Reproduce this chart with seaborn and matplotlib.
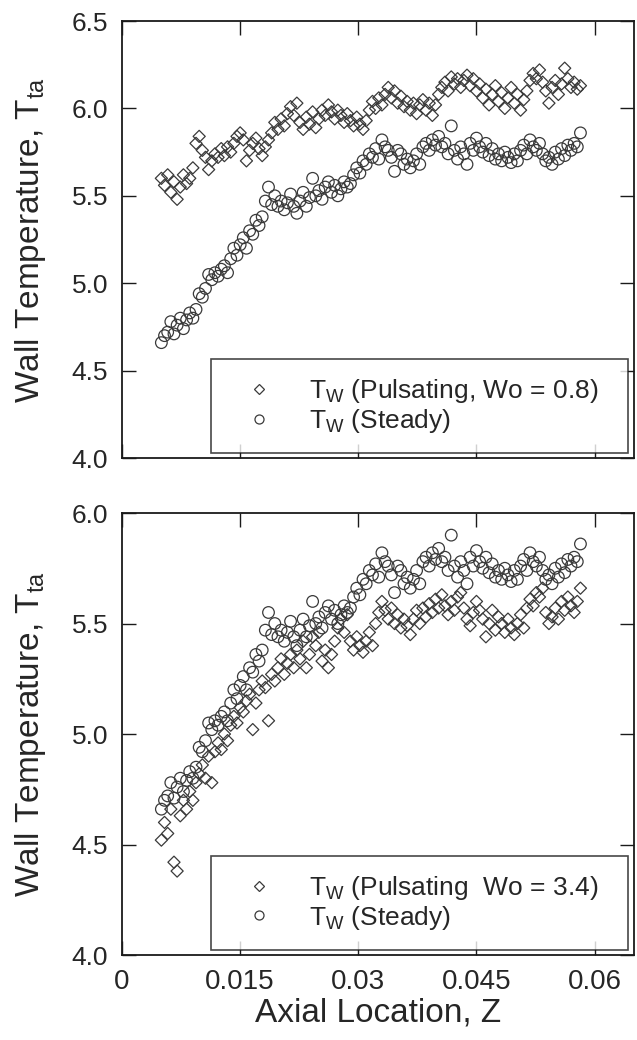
import numpy as np
import pandas as pd
import matplotlib
matplotlib.use("Agg")
import matplotlib.pyplot as plt
import seaborn as sns
from matplotlib.lines import Line2D

sns.set_style("ticks")
plt.rcParams['font.family'] = ['Liberation Sans', 'DejaVu Sans']
plt.rcParams['mathtext.fontset'] = 'custom'
plt.rcParams['mathtext.rm'] = 'Liberation Sans'
plt.rcParams['mathtext.it'] = 'Liberation Sans:italic'

# axial locations (same grid for every series)
z = [0.0050, 0.0054, 0.0058, 0.0062, 0.0066, 0.0070, 0.0074, 0.0078, 0.0082, 0.0086,
     0.0090, 0.0094, 0.0098, 0.0102, 0.0106, 0.0110, 0.0114, 0.0118, 0.0122, 0.0126,
     0.0130, 0.0134, 0.0138, 0.0142, 0.0146, 0.0150, 0.0154, 0.0158, 0.0162, 0.0166,
     0.0170, 0.0174, 0.0178, 0.0182, 0.0186, 0.0190, 0.0194, 0.0198, 0.0202, 0.0206,
     0.0210, 0.0214, 0.0218, 0.0222, 0.0226, 0.0230, 0.0234, 0.0238, 0.0242, 0.0246,
     0.0250, 0.0254, 0.0258, 0.0262, 0.0266, 0.0270, 0.0274, 0.0278, 0.0282, 0.0286,
     0.0290, 0.0294, 0.0298, 0.0302, 0.0306, 0.0310, 0.0314, 0.0318, 0.0322, 0.0326,
     0.0330, 0.0334, 0.0338, 0.0342, 0.0346, 0.0350, 0.0354, 0.0358, 0.0362, 0.0366,
     0.0370, 0.0374, 0.0378, 0.0382, 0.0386, 0.0390, 0.0394, 0.0398, 0.0402, 0.0406,
     0.0410, 0.0414, 0.0418, 0.0422, 0.0426, 0.0430, 0.0434, 0.0438, 0.0442, 0.0446,
     0.0450, 0.0454, 0.0458, 0.0462, 0.0466, 0.0470, 0.0474, 0.0478, 0.0482, 0.0486,
     0.0490, 0.0494, 0.0498, 0.0502, 0.0506, 0.0510, 0.0514, 0.0518, 0.0522, 0.0526,
     0.0530, 0.0534, 0.0538, 0.0542, 0.0546, 0.0550, 0.0554, 0.0558, 0.0562, 0.0566,
     0.0570, 0.0574, 0.0578, 0.0582]

# steady wall temperature (shown in both panels)
t_steady = [4.66, 4.70, 4.72, 4.78, 4.71, 4.76, 4.80, 4.74, 4.79, 4.83,
            4.80, 4.85, 4.94, 4.92, 4.97, 5.05, 5.02, 5.06, 5.04, 5.08,
            5.10, 5.06, 5.14, 5.20, 5.16, 5.22, 5.26, 5.20, 5.30, 5.28,
            5.36, 5.33, 5.38, 5.47, 5.55, 5.45, 5.50, 5.44, 5.47, 5.42,
            5.46, 5.51, 5.44, 5.40, 5.47, 5.52, 5.44, 5.49, 5.60, 5.50,
            5.53, 5.48, 5.55, 5.58, 5.52, 5.56, 5.50, 5.54, 5.58, 5.55,
            5.57, 5.62, 5.66, 5.63, 5.70, 5.68, 5.74, 5.72, 5.77, 5.71,
            5.82, 5.78, 5.76, 5.72, 5.64, 5.76, 5.74, 5.68, 5.71, 5.66,
            5.70, 5.74, 5.68, 5.78, 5.80, 5.76, 5.82, 5.79, 5.84, 5.78,
            5.80, 5.74, 5.90, 5.76, 5.71, 5.78, 5.74, 5.68, 5.80, 5.76,
            5.83, 5.78, 5.75, 5.80, 5.73, 5.77, 5.71, 5.74, 5.70, 5.75,
            5.72, 5.69, 5.74, 5.70, 5.76, 5.79, 5.74, 5.82, 5.78, 5.76,
            5.80, 5.74, 5.70, 5.72, 5.68, 5.75, 5.71, 5.77, 5.73, 5.79,
            5.76, 5.80, 5.78, 5.86]

# pulsating, Wo = 0.8
t_puls_08 = [5.60, 5.56, 5.62, 5.52, 5.58, 5.48, 5.55, 5.62, 5.57, 5.60,
             5.66, 5.80, 5.84, 5.76, 5.72, 5.65, 5.70, 5.74, 5.72, 5.77,
             5.73, 5.78, 5.75, 5.80, 5.84, 5.86, 5.82, 5.70, 5.76, 5.80,
             5.83, 5.77, 5.73, 5.78, 5.82, 5.86, 5.92, 5.88, 5.94, 5.90,
             5.97, 6.01, 5.96, 6.03, 5.92, 5.88, 5.95, 5.91, 5.98, 5.89,
             5.94, 5.99, 5.96, 6.02, 5.98, 5.94, 5.99, 5.96, 5.92, 5.97,
             5.93, 5.90, 5.95, 5.91, 5.88, 5.93, 5.99, 6.04, 6.00, 6.06,
             6.02, 6.08, 6.12, 6.06, 6.10, 6.03, 6.07, 6.01, 6.04, 5.99,
             6.03, 5.97, 6.02, 6.05, 5.99, 6.03, 5.96, 6.02, 6.08, 6.12,
             6.15, 6.10, 6.18, 6.14, 6.17, 6.12, 6.16, 6.19, 6.13, 6.17,
             6.10, 6.14, 6.06, 6.11, 6.02, 6.08, 6.13, 6.04, 6.09, 6.00,
             6.06, 6.12, 6.03, 6.08, 5.99, 6.05, 6.10, 6.16, 6.20, 6.17,
             6.22, 6.15, 6.10, 6.03, 6.12, 6.16, 6.08, 6.14, 6.23, 6.17,
             6.12, 6.15, 6.11, 6.13]

# pulsating, Wo = 3.4
t_puls_34 = [4.52, 4.60, 4.55, 4.66, 4.42, 4.38, 4.63, 4.70, 4.66, 4.74,
             4.70, 4.78, 4.82, 4.86, 4.80, 4.90, 4.78, 4.92, 4.96, 4.93,
             5.00, 4.97, 5.04, 5.08, 5.05, 5.12, 5.10, 5.15, 5.18, 5.02,
             5.14, 5.20, 5.24, 5.21, 5.06, 5.27, 5.24, 5.30, 5.34, 5.27,
             5.32, 5.36, 5.30, 5.38, 5.34, 5.42, 5.30, 5.36, 5.44, 5.40,
             5.46, 5.33, 5.38, 5.30, 5.36, 5.42, 5.48, 5.52, 5.46, 5.54,
             5.42, 5.38, 5.44, 5.40, 5.37, 5.42, 5.46, 5.40, 5.50, 5.55,
             5.60, 5.56, 5.52, 5.57, 5.50, 5.54, 5.48, 5.52, 5.49, 5.45,
             5.52, 5.56, 5.50, 5.57, 5.53, 5.59, 5.55, 5.61, 5.57, 5.63,
             5.58, 5.54, 5.60, 5.56, 5.62, 5.64, 5.57, 5.52, 5.49, 5.55,
             5.60, 5.56, 5.52, 5.44, 5.50, 5.56, 5.47, 5.53, 5.50, 5.46,
             5.52, 5.48, 5.45, 5.50, 5.54, 5.48, 5.57, 5.61, 5.58, 5.64,
             5.62, 5.66, 5.55, 5.50, 5.53, 5.57, 5.52, 5.60, 5.56, 5.62,
             5.58, 5.55, 5.60, 5.66]

x_ticks = [0, 0.015, 0.03, 0.045, 0.06]
x_tick_labels = ["0", "0.015", "0.03", "0.045", "0.06"]

df = pd.DataFrame({"z": z, "steady": t_steady, "p08": t_puls_08, "p34": t_puls_34})

EDGE = "#3a3a3a"
SPINE = "#1a1a1a"

fig = plt.figure(figsize=(6.37, 10.4), dpi=100)
ax_top = fig.add_axes([0.1915, 0.5596, 0.8038, 0.4202])
ax_bot = fig.add_axes([0.1915, 0.0817, 0.8038, 0.4250])


def draw_panel(ax, pulsed_col, pulsed_label, ylim, yticks):
    sns.scatterplot(data=df, x="z", y=pulsed_col, marker="D", s=38,
                    facecolor="none", edgecolor=EDGE, linewidth=0.9, ax=ax)
    sns.scatterplot(data=df, x="z", y="steady", marker="o", s=70,
                    facecolor="none", edgecolor=EDGE, linewidth=0.9, ax=ax)
    ax.set_xlim(0, 0.065)
    ax.set_ylim(*ylim)
    ax.set_yticks(yticks)
    ax.set_yticklabels([f"{v:.1f}" for v in yticks])
    ax.set_xticks(x_ticks)
    ax.tick_params(direction="in", length=10, width=1.0, color=SPINE,
                   top=True, right=True, labelsize=19, pad=10)
    for sp in ax.spines.values():
        sp.set_linewidth(1.3)
        sp.set_color(SPINE)
    ax.set_ylabel(r"Wall Temperature, T$_{\mathrm{ta}}$", fontsize=24)
    ax.yaxis.set_label_coords(-0.145, 0.5)

    handles = [
        Line2D([], [], marker="D", linestyle="none", markersize=5,
               markerfacecolor="none", markeredgecolor=EDGE, markeredgewidth=0.9),
        Line2D([], [], marker="o", linestyle="none", markersize=6.5,
               markerfacecolor="none", markeredgecolor=EDGE, markeredgewidth=0.9),
    ]
    labels = [pulsed_label, r"T$_{\mathrm{W}}$ (Steady)"]
    leg = ax.legend(handles, labels, loc="lower left", mode="expand",
                    bbox_to_anchor=(0.174, 0.011, 0.814, 0.2),
                    fontsize=19, frameon=True, fancybox=False, borderpad=0.7,
                    handlelength=2.2, handletextpad=0.8, labelspacing=0.05,
                    borderaxespad=0)
    leg.get_frame().set_edgecolor(SPINE)
    leg.get_frame().set_linewidth(1.2)


draw_panel(ax_top, "p08", r"T$_{\mathrm{W}}$ (Pulsating, Wo = 0.8)",
           (4.0, 6.5), [4.0, 4.5, 5.0, 5.5, 6.0, 6.5])
ax_top.set_xticklabels([])
ax_top.set_xlabel("")

draw_panel(ax_bot, "p34", r"T$_{\mathrm{W}}$ (Pulsating  Wo = 3.4)",
           (4.0, 6.0), [4.0, 4.5, 5.0, 5.5, 6.0])
ax_bot.set_xticklabels(x_tick_labels, fontsize=20)
ax_bot.set_xlabel("Axial Location, Z", fontsize=24)
ax_bot.xaxis.set_label_coords(0.5, -0.095)

plt.savefig("out.png", dpi=100)
plt.close()
